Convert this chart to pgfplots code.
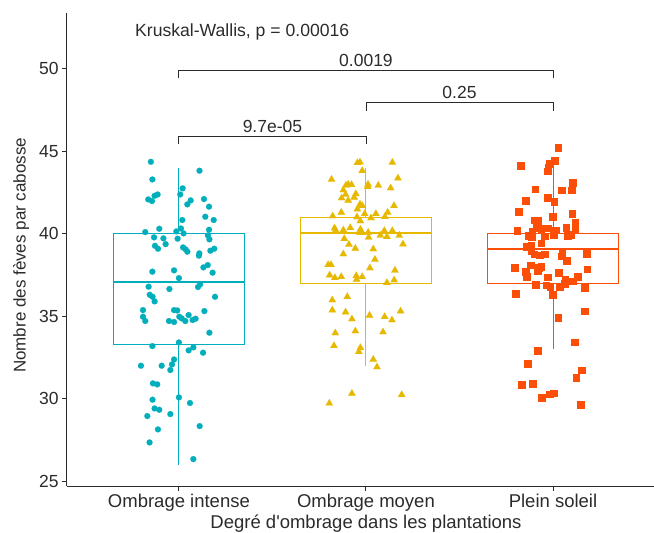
\documentclass[border=0pt]{standalone}
\usepackage{pgfplots}
\pgfplotsset{compat=1.18}
\usepackage{pgfplotstable}
\usepgfplotslibrary{statistics}
\usepackage{fontspec}
\setmainfont{Liberation Sans}

\definecolor{cIntense}{HTML}{00AFBB}
\definecolor{cMoyen}{HTML}{E7B800}
\definecolor{cSoleil}{HTML}{FC4E07}
\definecolor{axisgray}{HTML}{2B2B2B}

% jittered observations: x = group position + jitter, y = beans per pod
\pgfplotstableread{
x y
0.850 44.35
1.110 43.81
0.858 43.28
1.020 42.74
0.886 42.37
0.870 42.29
1.007 42.37
0.836 42.07
0.856 41.97
1.063 42.01
1.045 41.77
1.134 42.09
1.161 41.63
1.141 41.02
1.186 40.82
1.018 40.82
0.895 40.29
0.820 40.09
0.986 40.13
1.011 40.31
1.025 40.01
1.161 40.23
1.155 39.89
1.163 39.65
0.867 39.77
0.917 39.71
0.993 39.69
0.929 39.36
0.872 39.26
0.888 39.08
1.022 39.16
1.036 39.04
1.045 38.90
1.189 39.08
1.168 38.96
1.109 38.80
1.107 38.66
1.154 38.09
1.131 37.95
0.858 37.69
0.974 37.77
1.180 37.63
1.000 37.30
0.838 36.78
0.949 36.64
1.113 36.92
1.102 36.76
0.844 36.29
0.859 36.17
0.870 35.89
1.193 36.17
0.808 35.36
0.808 34.96
0.820 34.70
0.974 35.36
0.991 35.34
0.947 34.70
0.974 34.64
1.002 34.96
1.015 34.86
1.034 34.70
1.052 35.06
1.073 34.76
1.089 34.84
1.136 35.30
1.163 33.99
1.000 33.40
0.858 33.18
1.052 32.92
1.077 33.10
1.129 32.78
0.974 32.37
0.963 32.07
0.954 31.73
0.797 31.99
0.908 31.99
0.861 30.92
0.884 30.86
1.000 30.07
0.859 29.93
1.059 29.73
0.870 29.40
0.895 29.32
0.831 28.94
0.954 29.06
1.111 28.33
0.888 28.13
0.843 27.34
1.077 26.33
}\intense

\pgfplotstableread{
x y
1.954 44.29
1.968 44.33
2.141 44.31
1.980 43.81
1.816 43.28
2.171 43.36
1.905 42.98
1.923 42.96
1.893 42.92
2.011 42.98
2.009 42.84
2.066 42.92
2.132 42.76
1.879 42.64
1.891 42.37
1.946 42.41
1.870 42.15
1.937 42.19
1.905 42.01
1.968 41.77
1.980 41.69
1.954 41.48
2.150 41.69
1.868 41.28
1.822 41.06
1.993 41.20
2.053 41.20
2.116 41.28
2.101 41.02
1.952 41.00
2.027 40.94
1.970 40.76
1.832 40.33
1.838 40.19
1.879 40.21
1.916 40.35
1.970 40.25
1.968 40.05
1.979 40.07
2.012 40.07
2.014 39.77
2.098 40.17
2.141 40.17
2.077 39.89
2.112 39.81
2.178 39.89
1.884 39.69
1.909 39.34
1.943 39.10
2.039 39.06
2.198 39.36
1.879 38.76
2.048 38.43
1.798 38.11
1.813 38.11
2.021 37.91
2.155 37.77
1.806 37.48
1.834 37.32
1.868 37.38
1.948 37.44
1.950 37.22
1.980 37.38
2.112 37.02
2.151 37.18
1.900 36.17
1.820 35.97
1.820 35.36
1.891 35.24
1.925 34.82
2.019 35.04
2.100 34.96
2.139 34.76
2.185 35.30
1.836 33.97
1.943 34.09
2.091 34.03
1.829 33.20
1.970 33.08
1.962 32.84
2.039 32.37
2.059 31.91
1.925 30.31
2.191 30.23
1.804 29.71
}\moyen

\pgfplotstableread{
x y
3.027 45.22
2.827 44.11
3.007 44.41
2.981 44.25
2.974 44.01
2.972 43.79
3.104 43.08
2.904 42.70
3.047 42.64
3.098 42.64
2.852 41.99
2.970 42.17
3.006 41.93
2.815 41.34
3.102 41.22
2.997 41.02
2.902 40.82
2.917 40.78
3.118 40.70
2.808 40.19
2.911 40.37
2.936 40.29
2.970 40.33
3.015 40.21
3.070 40.37
3.118 40.27
2.888 40.11
2.868 39.87
2.884 39.81
2.954 39.85
3.002 39.95
3.079 39.89
3.097 39.95
2.936 39.42
2.860 39.20
2.883 39.26
2.883 38.96
2.899 38.76
2.927 38.70
2.956 38.76
3.048 38.88
3.045 38.64
3.179 38.78
3.072 38.37
2.795 37.93
2.879 38.09
2.924 37.95
2.936 37.99
2.918 37.77
2.852 37.71
2.860 37.38
2.970 37.36
3.029 37.65
3.182 37.85
3.130 37.38
3.105 37.12
3.065 37.22
3.063 36.98
2.906 36.92
2.963 36.88
2.984 36.76
3.034 36.80
3.168 36.72
2.999 36.31
2.801 36.37
3.168 35.30
3.027 34.92
3.114 33.42
2.917 32.92
2.863 32.13
3.154 31.73
3.123 31.28
2.833 30.86
2.892 30.92
2.940 30.05
2.981 30.27
3.002 30.33
3.147 29.65
}\soleil

\begin{document}
\begin{tikzpicture}
\path[use as bounding box] (0,0) rectangle (654pt,-533pt);
\begin{axis}[
  at={(66.7pt,-486pt)}, anchor=south west,
  scale only axis, width=587.3pt, height=472.7pt,
  xmin=0.4, xmax=3.54, ymin=24.7, ymax=53.35,
  axis x line*=bottom, axis y line*=left,
  axis line style={axisgray, line width=1pt},
  tick style={axisgray, line width=1pt},
  tick align=outside, major tick length=4.5pt,
  xtick={1,2,3},
  xticklabels={Ombrage intense, Ombrage moyen, Plein soleil},
  ytick={25,30,35,40,45,50},
  /pgf/number format/assume math mode=true,
  xticklabel style={font=\fontsize{18.5}{21}\selectfont, text=axisgray},
  yticklabel style={font=\fontsize{17.5}{20}\selectfont, text=axisgray},
  xlabel={Degré d\textquotesingle ombrage dans les plantations},
  ylabel={Nombre des fèves par cabosse},
  xlabel style={font=\fontsize{18.5}{21}\selectfont, text=axisgray, at={(axis description cs:0.5096,-0.08)}, anchor=center},
  ylabel style={font=\fontsize{17}{20}\selectfont, text=axisgray, at={(axis description cs:-0.0778,0.488)}, anchor=center, rotate=0},
  boxplot/draw direction=y,
  boxplot/box extend=0.7,
  boxplot/whisker extend=0,
  boxplot/every median/.style={line width=2pt},
  clip=false,
]
% boxes
\addplot[cIntense, line width=1pt, fill=white, solid,
  boxplot prepared={draw position=1, lower whisker=26, lower quartile=33.25,
  median=37.05, upper quartile=40, upper whisker=44}] coordinates {};
\addplot[cMoyen, line width=1pt, fill=white, solid,
  boxplot prepared={draw position=2, lower whisker=32, lower quartile=37,
  median=40.05, upper quartile=41, upper whisker=44}] coordinates {};
\addplot[cSoleil, line width=1pt, fill=white, solid,
  boxplot prepared={draw position=3, lower whisker=33, lower quartile=37,
  median=39.08, upper quartile=40, upper whisker=44}] coordinates {};

% jittered points
\addplot[only marks, color=cIntense, mark=*, mark size=3pt,
  mark options={draw=cIntense, fill=cIntense, line width=0.1pt}] table[x=x,y=y] {\intense};
\addplot[only marks, color=cMoyen, mark=triangle*, mark size=4.2pt,
  mark options={draw=cMoyen, fill=cMoyen, line width=0.1pt}] table[x=x,y=y] {\moyen};
\addplot[only marks, color=cSoleil, mark=square*, mark size=3.3pt,
  mark options={draw=cSoleil, fill=cSoleil, line width=0.1pt}] table[x=x,y=y] {\soleil};

% pairwise comparison brackets
\draw[line width=0.9pt, axisgray] (axis cs:1,49.4) -- (axis cs:1,49.9) -- (axis cs:3,49.9) -- (axis cs:3,49.4);
\node[anchor=base, font=\fontsize{17.5}{20}\selectfont, text=axisgray, yshift=4pt] at (axis cs:2,49.9) {0.0019};
\draw[line width=0.9pt, axisgray] (axis cs:2,47.4) -- (axis cs:2,47.93) -- (axis cs:3,47.93) -- (axis cs:3,47.4);
\node[anchor=base, font=\fontsize{17.5}{20}\selectfont, text=axisgray, yshift=4pt] at (axis cs:2.5,47.93) {0.25};
\draw[line width=0.9pt, axisgray] (axis cs:1,45.4) -- (axis cs:1,45.9) -- (axis cs:2,45.9) -- (axis cs:2,45.4);
\node[anchor=base, font=\fontsize{17.5}{20}\selectfont, text=axisgray, yshift=4pt] at (axis cs:1.5,45.9) {9.7e-05};

\node[anchor=base west, inner sep=0pt, font=\fontsize{17.6}{20}\selectfont, text=axisgray] at (axis cs:0.765,51.97) {Kruskal-Wallis, p = 0.00016};
\end{axis}
\end{tikzpicture}
\end{document}
